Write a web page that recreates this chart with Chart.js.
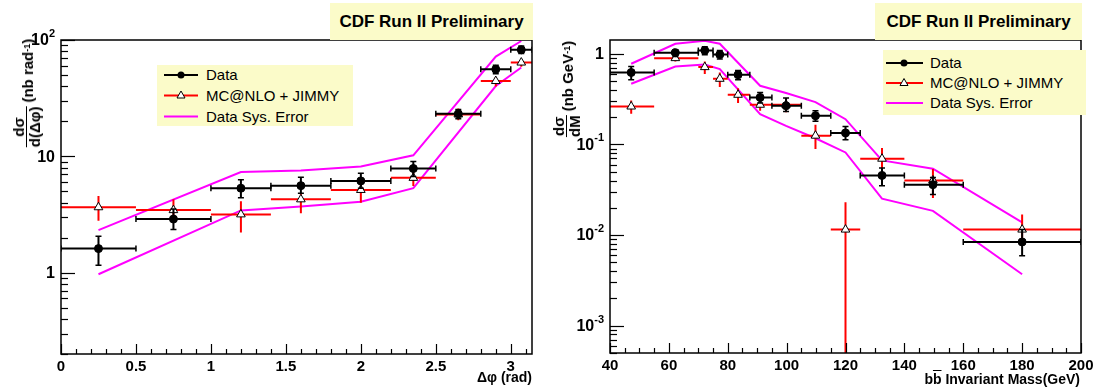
<!DOCTYPE html>
<html>
<head>
<meta charset="utf-8">
<script src="https://cdn.jsdelivr.net/npm/chart.js@4.4.1/dist/chart.umd.min.js"></script>
<style>
  body { margin: 0; background: #fff; font-family: "Liberation Sans", Arial, sans-serif; }
  #wrap { position: relative; width: 1101px; height: 391px; overflow: hidden; }
  canvas { position: absolute; top: 0; }
  .title { position: absolute; top: 3px; height: 37px; line-height: 37px; background: #fbfbc9;
           font-weight: bold; font-size: 17px; text-align: center; }
  .legend { position: absolute; background: #fbfbc9; font-size: 15px; }
  .legend svg { position: absolute; left: 0; top: 0; }
  .legend .row { position: absolute; white-space: nowrap; line-height: 18px; }
  .ytitle { position: absolute; transform: translate(-50%, -50%) rotate(-90deg); white-space: nowrap;
            font-weight: bold; font-size: 15px; display: flex; align-items: center; }
  .frac { display: inline-flex; flex-direction: column; align-items: center; font-size: 15px; line-height: 14px; margin-right: 4px; }
  .frac .den { border-top: 1.5px solid #000; padding-top: 1px; }
  .xtitle { position: absolute; font-weight: bold; font-size: 14px; white-space: nowrap; }
  .ticks { position: absolute; top: 0; pointer-events: none; }
  sup { font-size: 9px; }
</style>
</head>
<body>
<div id="wrap">
  <canvas id="left" width="550" height="391" style="left:0"></canvas>
  <canvas id="right" width="551" height="391" style="left:550px"></canvas>

  <div class="title" style="left:330px; width:203px;">CDF Run II Preliminary</div>
  <div class="title" style="left:875px; width:207px;">CDF Run II Preliminary</div>

  <div class="legend" style="left:157px; top:65px; width:196px; height:61px;">
    <svg width="196" height="61">
      <line x1="7" y1="10" x2="41" y2="10" stroke="#000" stroke-width="2"/>
      <circle cx="24" cy="10" r="3.5" fill="#000"/>
      <line x1="7" y1="30.5" x2="41" y2="30.5" stroke="#f00" stroke-width="2"/>
      <polygon points="24,26 28,33 20,33" fill="#fff" stroke="#000" stroke-width="1"/>
      <line x1="7" y1="51.5" x2="41" y2="51.5" stroke="#f0f" stroke-width="2"/>
    </svg>
    <div class="row" style="left:49px; top:1px;">Data</div>
    <div class="row" style="left:49px; top:21.5px;">MC@NLO + JIMMY</div>
    <div class="row" style="left:49px; top:42.5px;">Data Sys. Error</div>
  </div>

  <div class="legend" style="left:883px; top:50px; width:203px; height:65px;">
    <svg width="203" height="65">
      <line x1="3" y1="13" x2="40" y2="13" stroke="#000" stroke-width="2"/>
      <circle cx="21" cy="13" r="3.5" fill="#000"/>
      <line x1="3" y1="33" x2="40" y2="33" stroke="#f00" stroke-width="2"/>
      <polygon points="21,28.5 25,35.5 17,35.5" fill="#fff" stroke="#000" stroke-width="1"/>
      <line x1="3" y1="53" x2="40" y2="53" stroke="#f0f" stroke-width="2"/>
    </svg>
    <div class="row" style="left:47px; top:4px;">Data</div>
    <div class="row" style="left:47px; top:24px;">MC@NLO + JIMMY</div>
    <div class="row" style="left:47px; top:44px;">Data Sys. Error</div>
  </div>

  <div class="ytitle" style="left:27px; top:93px;">
    <span class="frac"><span>dσ</span><span class="den">d(Δφ)</span></span>(nb rad<sup>-1</sup>)
  </div>
  <div class="ytitle" style="left:567px; top:89px;">
    <span class="frac"><span>dσ</span><span class="den">dM</span></span>(nb GeV<sup>-1</sup>)
  </div>

  <div class="xtitle" style="right:569px; top:369px;">Δφ (rad)</div>
  <div class="xtitle" style="right:21px; top:371px;">b<span style="text-decoration:overline">b</span> Invariant Mass(GeV)</div>
</div>

<script>
// ---- Delta phi panel ----
const phiX    = [0.25, 0.75, 1.2, 1.6, 2.0, 2.35, 2.65, 2.9, 3.07];
const phiBinLo = [0, 0.5, 1.0, 1.4, 1.8, 2.2, 2.5, 2.8, 3.0];
const phiBinHi = [0.5, 1.0, 1.4, 1.8, 2.2, 2.5, 2.8, 3.0, 3.1416];
const dataPhi   = [1.61, 2.89, 5.32, 5.6, 6.15, 7.86, 23.2, 56, 82.3];
const dataPhiHi = [2.06, 3.52, 6.28, 6.62, 7.17, 9.03, 25.3, 60.7, 89];
const dataPhiLo = [1.16, 2.35, 4.41, 4.82, 5.32, 6.7, 21, 51.4, 76.6];
const mcPhi   = [3.65, 3.45, 3.17, 4.27, 5.14, 6.53, 22.9, 44.4, 64];
const mcPhiHi = [4.56, 4.27, 4.11, 4.8, 6.07, 7.4, 25.8, 48, 68];
const mcPhiLo = [2.79, 2.83, 2.22, 3.24, 3.99, 5.57, 20.4, 39.8, 59];
const sysPhiX  = [0.25, 1.2, 1.6, 2.0, 2.35, 2.9, 3.07];
const sysPhiUp = [2.32, 7.32, 7.55, 8.18, 10.2, 72, 98];
const sysPhiDn = [0.97, 3.43, 3.7, 4.07, 5.32, 40.2, 58];
const phiTicks = [0, 0.5, 1, 1.5, 2, 2.5, 3];
const phiYTicks = [1, 10, 100];
const phiYExp = [null, null, '2'];   // 1, 10, 10^2

// ---- invariant mass panel ----
const mX     = [47.2, 62.2, 72.2, 77.3, 83.5, 91, 99.8, 109.8, 120, 132.4, 149.7, 180];
const mBinLo = [40, 55, 70, 75, 80, 87.5, 95, 105, 115, 125, 140, 160];
const mBinHi = [55, 70, 75, 80, 87.5, 95, 105, 115, 125, 140, 160, 200];
const dataM   = [0.622, 1.03, 1.09, 0.98, 0.587, 0.33, 0.267, 0.207, 0.134, 0.0455, 0.036, 0.0084];
const dataMHi = [0.724, 1.1, 1.2, 1.09, 0.655, 0.375, 0.325, 0.235, 0.158, 0.055, 0.0433, 0.0115];
const dataMLo = [0.517, 0.934, 0.975, 0.874, 0.517, 0.286, 0.231, 0.18, 0.113, 0.035, 0.028, 0.0059];
const mcM   = [0.262, 0.896, 0.713, 0.53, 0.353, 0.274, 0.274, 0.125, 0.0115, 0.0696, 0.0401, 0.0115];
const mcMHi = [0.306, 0.975, 0.823, 0.622, 0.418, 0.31, 0.325, 0.165, 0.023, 0.0913, 0.0536, 0.0169];
const mcMLo = [0.218, 0.823, 0.597, 0.43, 0.286, 0.235, 0.226, 0.0888, 0.0001, 0.0536, 0.0256, 0.0078];
const sysMX  = [47.2, 62.2, 72.2, 77.3, 91, 99.8, 109.8, 120, 132.4, 149.7, 180];
const sysMUp = [0.776, 1.29, 1.39, 1.29, 0.444, 0.369, 0.293, 0.19, 0.0666, 0.054, 0.0138];
const sysMDn = [0.467, 0.724, 0.762, 0.678, 0.216, 0.16, 0.117, 0.0816, 0.0252, 0.0185, 0.0037];
const mTicks = [40, 60, 80, 100, 120, 140, 160, 180, 200];
const mYTicks = [0.001, 0.01, 0.1, 1];
const mYExp = ['-3', '-2', '-1', null];

const pts = (xs, ys) => xs.map((x, i) => ({ x: x, y: ys[i] }));

// error bars under each dataset's markers
const errorBars = {
  id: 'errorBars',
  beforeDatasetDraw(chart, args) {
    const ds = chart.data.datasets[args.index];
    if (!ds.xLo) return;
    const { ctx, chartArea: a, scales: { x, y } } = chart;
    ctx.save();
    ctx.beginPath();
    ctx.rect(a.left, a.top, a.width, a.height);
    ctx.clip();
    ctx.strokeStyle = ds.errColor;
    ds.data.forEach((p, i) => {
      const px = x.getPixelForValue(p.x), py = y.getPixelForValue(p.y);
      const x0 = x.getPixelForValue(ds.xLo[i]), x1 = x.getPixelForValue(ds.xHi[i]);
      const y0 = y.getPixelForValue(ds.yLo[i]), y1 = y.getPixelForValue(ds.yHi[i]);
      ctx.lineWidth = 2;
      ctx.beginPath();
      ctx.moveTo(x0, py); ctx.lineTo(x1, py);
      ctx.moveTo(px, y0); ctx.lineTo(px, y1);
      ctx.stroke();
      if (ds.caps) {
        ctx.lineWidth = 1.5;
        ctx.beginPath();
        ctx.moveTo(x0, py - 3); ctx.lineTo(x0, py + 3);
        ctx.moveTo(x1, py - 3); ctx.lineTo(x1, py + 3);
        ctx.moveTo(px - 3, y0); ctx.lineTo(px + 3, y0);
        ctx.moveTo(px - 3, y1); ctx.lineTo(px + 3, y1);
        ctx.stroke();
      }
    });
    ctx.restore();
  }
};

// frame and 10^n labels
function frameLabels(o) {
  return {
    id: 'frameLabels',
    afterDraw(chart) {
      const { ctx, chartArea: a, scales: { y } } = chart;
      ctx.save();
      ctx.strokeStyle = '#000';
      ctx.lineWidth = 1.5;
      ctx.strokeRect(a.left, a.top, a.width, a.height);
      ctx.fillStyle = '#000';
      ctx.textBaseline = 'middle';
      ctx.textAlign = 'right';
      o.yTicks.forEach((v, i) => {
        const py = y.getPixelForValue(v);
        const right = a.left - 6;
        const exp = o.yExp[i];
        if (exp === null) {
          ctx.font = 'bold 16px "Liberation Sans"';
          ctx.fillText(String(v), right, py + 1);
        } else {
          ctx.font = 'bold 11px "Liberation Sans"';
          const ew = ctx.measureText(exp).width;
          ctx.fillText(exp, right, py - 6);
          ctx.font = 'bold 16px "Liberation Sans"';
          ctx.fillText('10', right - ew, py + 1);
        }
      });
      ctx.restore();
    }
  };
}

// inward ROOT-style tick marks, laid over the canvas as svg from the chart's own scales
function addTicks(chart, offsetLeft, o) {
  const ns = 'http://www.w3.org/2000/svg';
  const a = chart.chartArea, sx = chart.scales.x, sy = chart.scales.y;
  const svg = document.createElementNS(ns, 'svg');
  svg.setAttribute('class', 'ticks');
  svg.setAttribute('width', chart.width);
  svg.setAttribute('height', chart.height);
  svg.style.left = offsetLeft + 'px';
  const line = (x1, y1, x2, y2) => {
    const l = document.createElementNS(ns, 'line');
    l.setAttribute('x1', x1); l.setAttribute('y1', y1);
    l.setAttribute('x2', x2); l.setAttribute('y2', y2);
    l.setAttribute('stroke', '#000');
    l.setAttribute('stroke-width', '1.2');
    svg.appendChild(l);
  };
  const nx = Math.round((o.xMax - o.xMin) / o.xMinor);
  for (let k = 0; k <= nx; k++) {
    const px = Math.round(sx.getPixelForValue(o.xMin + k * o.xMinor)) + 0.5;
    const len = (k % o.xEvery === 0) ? 10 : 5;
    line(px, a.bottom, px, a.bottom - len);
  }
  const d0 = Math.floor(Math.log10(o.yMin)), d1 = Math.ceil(Math.log10(o.yMax));
  for (let d = d0; d <= d1; d++) {
    for (let m = 1; m <= 9; m++) {
      const v = m * Math.pow(10, d);
      if (v < o.yMin || v > o.yMax) continue;
      const py = Math.round(sy.getPixelForValue(v)) + 0.5;
      line(a.left, py, a.left + (m === 1 ? 14 : 7), py);
    }
  }
  document.getElementById('wrap').appendChild(svg);
}

const tickFont = { family: 'Liberation Sans', size: 15, weight: 'bold' };

function makeChart(id, cfg) {
  return new Chart(document.getElementById(id), {
    type: 'scatter',
    data: {
      datasets: [
        {
          label: 'Data', data: pts(cfg.x, cfg.data),
          xLo: cfg.binLo, xHi: cfg.binHi, yLo: cfg.dataLo, yHi: cfg.dataHi,
          errColor: '#000', caps: true,
          pointStyle: 'circle', pointRadius: 4, backgroundColor: '#000', borderColor: '#000'
        },
        {
          label: 'MC@NLO + JIMMY', data: pts(cfg.x, cfg.mc),
          xLo: cfg.binLo, xHi: cfg.binHi, yLo: cfg.mcLo, yHi: cfg.mcHi,
          errColor: '#ff0000', caps: false,
          pointStyle: 'triangle', pointRadius: 5, backgroundColor: '#fff', borderColor: '#000', borderWidth: 1
        },
        {
          label: 'Data Sys. Error', data: pts(cfg.sysX, cfg.sysUp),
          showLine: true, pointRadius: 0, borderColor: '#ff00ff', borderWidth: 2
        },
        {
          label: 'Data Sys. Error low', data: pts(cfg.sysX, cfg.sysDn),
          showLine: true, pointRadius: 0, borderColor: '#ff00ff', borderWidth: 2
        }
      ]
    },
    options: {
      responsive: false,
      animation: false,
      layout: { padding: { top: 40, right: cfg.padRight, left: 0, bottom: 0 } },
      plugins: {
        legend: { display: false },
        tooltip: { enabled: false }
      },
      scales: {
        x: {
          type: 'linear', min: cfg.xMin, max: cfg.xMax,
          grid: { display: false, drawTicks: false }, border: { display: false },
          afterBuildTicks: s => { s.ticks = cfg.xTicks.map(v => ({ value: v })); },
          afterFit: s => { s.height = cfg.xHeight; },
          ticks: { font: tickFont, color: '#000', padding: 4, maxRotation: 0,
                   callback: v => String(v) }
        },
        y: {
          type: 'logarithmic', min: cfg.yMin, max: cfg.yMax,
          grid: { display: false, drawTicks: false }, border: { display: false },
          afterBuildTicks: s => { s.ticks = cfg.yTicks.map(v => ({ value: v })); },
          afterFit: s => { s.width = cfg.yWidth; },
          ticks: { display: false }
        }
      }
    },
    plugins: [errorBars, frameLabels(cfg.axis)]
  });
}

const axisL = { xMin: 0, xMax: 3.1, xMinor: 0.1, xEvery: 5, yMin: 0.2, yMax: 100,
                yTicks: phiYTicks, yExp: phiYExp };
const axisR = { xMin: 40, xMax: 200, xMinor: 5, xEvery: 4, yMin: 0.0005, yMax: 1.42,
                yTicks: mYTicks, yExp: mYExp };

const leftChart = makeChart('left', {
  x: phiX, binLo: phiBinLo, binHi: phiBinHi,
  data: dataPhi, dataLo: dataPhiLo, dataHi: dataPhiHi,
  mc: mcPhi, mcLo: mcPhiLo, mcHi: mcPhiHi,
  sysX: sysPhiX, sysUp: sysPhiUp, sysDn: sysPhiDn,
  xMin: 0, xMax: Math.PI, yMin: 0.2, yMax: 100,
  xTicks: phiTicks, yTicks: phiYTicks,
  yWidth: 61, xHeight: 37, padRight: 18, axis: axisL
});

const rightChart = makeChart('right', {
  x: mX, binLo: mBinLo, binHi: mBinHi,
  data: dataM, dataLo: dataMLo, dataHi: dataMHi,
  mc: mcM, mcLo: mcMLo, mcHi: mcMHi,
  sysX: sysMX, sysUp: sysMUp, sysDn: sysMDn,
  xMin: 40, xMax: 200, yMin: 0.0005, yMax: 1.42,
  xTicks: mTicks, yTicks: mYTicks,
  yWidth: 60, xHeight: 38, padRight: 20, axis: axisR
});

addTicks(leftChart, 0, axisL);
addTicks(rightChart, 550, axisR);
</script>
</body>
</html>
